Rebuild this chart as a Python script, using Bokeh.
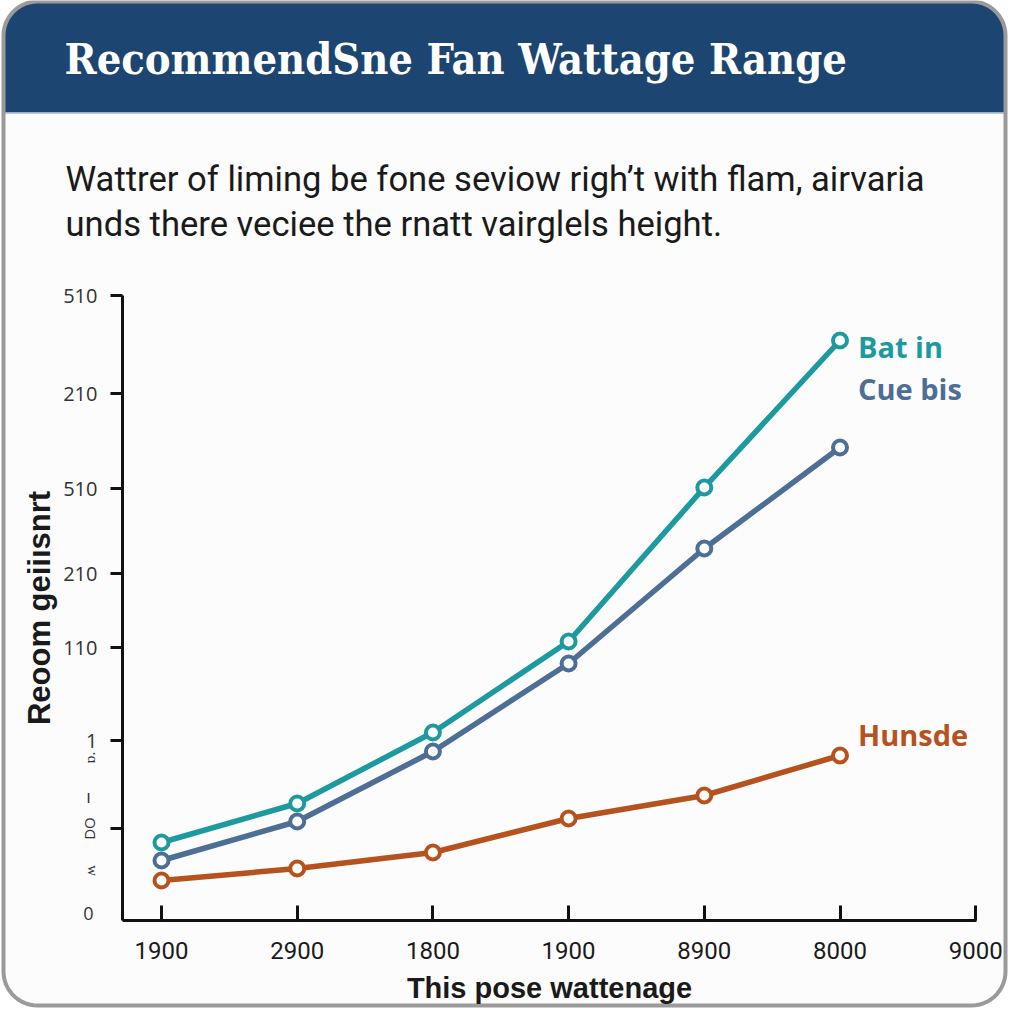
import numpy as np
from bokeh.plotting import figure
from bokeh.models import FixedTicker, Label, Range1d
from bokeh.core.properties import value
from bokeh.embed import file_html
from bokeh.resources import INLINE

# ---------------- data ----------------
title_text = "RecommendSne Fan Wattage Range"
subtitle_lines = ["Wattrer of liming be fone seviow righ\u2019t with flam, airvaria",
                  "unds there veciee the rnatt vairglels height."]
x_axis_title = "This pose wattenage"
y_axis_title = "Reoom geii\u0131snrt"

categories = ["1900", "2900", "1800", "1900", "8900", "8000", "9000"]
x_index = [0, 1, 2, 3, 4, 5]
teal_vals = [78, 117, 188, 279, 433, 580]
blue_vals = [60, 99, 169, 257, 372, 473]
orange_vals = [40, 52, 68, 102, 125, 165]
series_names = ["Bat in", "Cue bis", "Hunsde"]

y_tick_values = [625, 527, 432, 347, 273, 180, 92]
y_tick_labels = ["510", "210", "510", "210", "110", "1", ""]
y_extra_values = [163, 125, 92, 50, 7]
y_extra_labels = ["\u0252.", "\u0131", "DO", "\u028d", "0"]
y_extra_angles = [90, 0, 90, 90, 0]

# ---------------- layout (canvas pixels -> data) ----------------
W, H = 1008, 1008
AXL, AXB = 122, 920          # canvas position of y axis line / x axis line
SX = 135.7                   # pixels per category step
X0 = -(161 - AXL) / SX       # data x at the y axis
XR = X0 + (976 - AXL) / SX   # end of x axis
Y_TOP = 625                  # data y at top of y axis


def cx(px):
    return X0 + (px - AXL) / SX


def cy(py):
    return AXB - py


TEAL = "#1d9aa0"
BLUE = "#4d6e95"
ORANGE = "#b6521d"
NAVY = "#1d4571"

p = figure(width=W, height=H, x_range=Range1d(cx(0), cx(W)), y_range=Range1d(cy(H), cy(0)),
           output_backend="svg", toolbar_location=None, title=None,
           min_border=0)
p.grid.visible = False
p.outline_line_color = None
p.background_fill_color = "#ffffff"
p.border_fill_color = "#ffffff"


def rounded_rect(x0, y0, x1, y1, r, top=True, bottom=True):
    pts = []

    def arc(ccx, ccy, a0, a1):
        t = np.linspace(np.radians(a0), np.radians(a1), 14)
        return [(ccx + r * np.cos(a), ccy - r * np.sin(a)) for a in t]
    if top:
        pts += arc(x0 + r, y0 + r, 180, 90)
        pts += arc(x1 - r, y0 + r, 90, 0)
    else:
        pts += [(x0, y0), (x1, y0)]
    if bottom:
        pts += arc(x1 - r, y1 - r, 0, -90)
        pts += arc(x0 + r, y1 - r, -90, -180)
    else:
        pts += [(x1, y1), (x0, y1)]
    return [cx(a) for a, b in pts], [cy(b) for a, b in pts]


# card background, header band, card outline
cxs, cys = rounded_rect(3, 1, 1005, 1005, 34)
p.patch(cxs, cys, fill_color="#fcfcfc", line_color=None)
hxs, hys = rounded_rect(3, 1, 1005, 112, 34, top=True, bottom=False)
p.patch(hxs, hys, fill_color=NAVY, line_color=None)
p.line([cx(3), cx(1005)], [cy(112.5), cy(112.5)], line_color="#9db7cf", line_width=1.5)
p.patch(cxs, cys, fill_color=None, line_color="#9a9a9a", line_width=4)

p.text(x=[cx(64)], y=[cy(58)], text=[title_text], text_color="white",
       text_font=value("DejaVu Serif Condensed"), text_font_style="bold",
       text_font_size="43px", text_baseline="middle", text_align="left")

p.text(x=[cx(65)] * len(subtitle_lines), y=[cy(178), cy(223)], text=subtitle_lines,
       text_color="#1a1a1a", text_font=value("Roboto"), text_font_size="34.6px",
       text_baseline="alphabetic", text_align="left")

# axes placed at fixed positions
p.xaxis.fixed_location = 0
p.yaxis.fixed_location = X0
p.xaxis.bounds = (X0, XR)
p.yaxis.bounds = (0, Y_TOP)

p.xaxis.ticker = FixedTicker(ticks=list(range(len(categories))))
p.xaxis.major_label_overrides = {i: c for i, c in enumerate(categories)}
p.xaxis.major_tick_in = 15
p.xaxis.major_tick_out = 0
p.xaxis.minor_tick_line_color = None
p.xaxis.axis_line_width = 3
p.xaxis.major_tick_line_width = 3
p.xaxis.axis_line_color = "#111111"
p.xaxis.major_tick_line_color = "#111111"
p.xaxis.major_label_text_font = "Roboto"
p.xaxis.major_label_text_font_size = "24px"
p.xaxis.major_label_text_color = "#1a1a1a"
p.xaxis.major_label_standoff = 21
p.xaxis.axis_label = x_axis_title
p.xaxis.axis_label_text_font = "Liberation Sans"
p.xaxis.axis_label_text_font_style = "bold"
p.xaxis.axis_label_text_font_size = "29px"
p.xaxis.axis_label_text_color = "#1a1a1a"
p.xaxis.axis_label_standoff = 10

p.yaxis.ticker = FixedTicker(ticks=y_tick_values)
p.yaxis.major_label_overrides = {v: l for v, l in zip(y_tick_values, y_tick_labels)}
p.yaxis.major_tick_in = 0
p.yaxis.major_tick_out = 12
p.yaxis.minor_tick_line_color = None
p.yaxis.axis_line_width = 3
p.yaxis.major_tick_line_width = 3
p.yaxis.axis_line_color = "#111111"
p.yaxis.major_tick_line_color = "#111111"
p.yaxis.major_label_text_font = "Open Sans"
p.yaxis.major_label_text_font_size = "20px"
p.yaxis.major_label_text_color = "#333333"
p.yaxis.major_label_standoff = 13
p.yaxis.axis_label = y_axis_title
p.yaxis.axis_label_text_font = "Liberation Sans"
p.yaxis.axis_label_text_font_style = "bold"
p.yaxis.axis_label_text_font_size = "31px"
p.yaxis.axis_label_text_color = "#1a1a1a"
p.yaxis.axis_label_standoff = 3

# small stray labels along the y axis
for v, lab, ang in zip(y_extra_values, y_extra_labels, y_extra_angles):
    p.text(x=[cx(88)], y=[v], text=[lab], text_color="#333333",
           text_font=value("Open Sans"), text_font_size="15px" if ang else "18px",
           angle=np.radians(ang), text_align="center", text_baseline="middle")

# series
for vals, color in [(orange_vals, ORANGE), (blue_vals, BLUE), (teal_vals, TEAL)]:
    p.line(x_index, vals, line_color=color, line_width=5.5)
    p.scatter(x_index, vals, size=14, marker="circle", fill_color="white",
              line_color=color, line_width=4)

label_offsets = [(18, -6), (18, 59), (18, 21)]
for name, vals, color, (dx, dy) in zip(series_names, [teal_vals, blue_vals, orange_vals],
                                       [TEAL, BLUE, ORANGE], label_offsets):
    p.add_layout(Label(x=x_index[-1], y=vals[-1], x_offset=dx, y_offset=dy, text=name,
                       text_color=color, text_font="Open Sans", text_font_style="bold",
                       text_font_size="29px", text_baseline="middle", text_align="left"))

open("out.html", "w").write(file_html(p, INLINE))
